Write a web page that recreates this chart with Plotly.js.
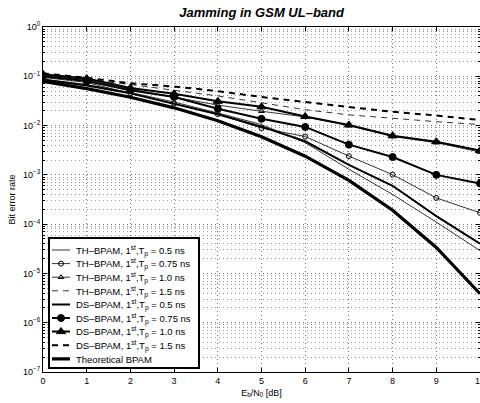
<!DOCTYPE html>
<html>
<head>
<meta charset="utf-8">
<script src="https://cdn.plot.ly/plotly-3.0.1.min.js"></script>
<style>html,body{margin:0;padding:0;background:#fff;}#chart{width:480px;height:403px;}</style>
</head>
<body>
<div id="chart"></div>
<script>
// E_b/N_0 in dB
var ebn0 = [0, 1, 2, 3, 4, 5, 6, 7, 8, 9, 10];

// Bit error rate values
var thBpam050 = [0.088, 0.068, 0.047, 0.030, 0.018, 0.0105, 0.0045, 0.0013, 0.00040, 0.00011, 0.000029];
var thBpam075 = [0.095, 0.075, 0.045, 0.028, 0.017, 0.0089, 0.0060, 0.0024, 0.00101, 0.00034, 0.00017];
var thBpam100 = [0.105, 0.085, 0.055, 0.038, 0.026, 0.0195, 0.0150, 0.0100, 0.0060, 0.0045, 0.0029];
var thBpam150 = [0.110, 0.088, 0.068, 0.052, 0.040, 0.029, 0.021, 0.0165, 0.0140, 0.0120, 0.0105];
var dsBpam050 = [0.085, 0.065, 0.045, 0.028, 0.017, 0.0095, 0.0048, 0.0016, 0.00060, 0.000145, 0.000040];
var dsBpam075 = [0.100, 0.080, 0.052, 0.038, 0.022, 0.0137, 0.0094, 0.0041, 0.0023, 0.0010, 0.00067];
var dsBpam100 = [0.110, 0.090, 0.058, 0.044, 0.031, 0.024, 0.0153, 0.0103, 0.0062, 0.0047, 0.0031];
var dsBpam150 = [0.115, 0.093, 0.072, 0.062, 0.050, 0.038, 0.030, 0.024, 0.019, 0.016, 0.013];
var theoretical = [0.0786, 0.0563, 0.0375, 0.0229, 0.0125, 0.00595, 0.00239, 0.00077, 0.000191, 0.0000336, 0.00000387];

// Legend labels
var seriesNames = [
  'TH\u2013BPAM, 1<sup>st</sup>,T<sub>p</sub> = 0.5 ns',
  'TH\u2013BPAM, 1<sup>st</sup>,T<sub>p</sub> = 0.75 ns',
  'TH\u2013BPAM, 1<sup>st</sup>,T<sub>p</sub> = 1.0 ns',
  'TH\u2013BPAM, 1<sup>st</sup>,T<sub>p</sub> = 1.5 ns',
  'DS\u2013BPAM, 1<sup>st</sup>,T<sub>p</sub> = 0.5 ns',
  'DS\u2013BPAM, 1<sup>st</sup>,T<sub>p</sub> = 0.75 ns',
  'DS\u2013BPAM, 1<sup>st</sup>,T<sub>p</sub> = 1.0 ns',
  'DS\u2013BPAM, 1<sup>st</sup>,T<sub>p</sub> = 1.5 ns',
  'Theoretical BPAM'
];

// Tick labels
var xTickVals = [0, 1, 2, 3, 4, 5, 6, 7, 8, 9, 10];
var xTickText = ['0', '1', '2', '3', '4', '5', '6', '7', '8', '9', '10'];
var yTickVals = [1e-7, 1e-6, 1e-5, 1e-4, 1e-3, 1e-2, 1e-1, 1];
var yTickText = ['10<sup>\u22127</sup>', '10<sup>\u22126</sup>', '10<sup>\u22125</sup>', '10<sup>\u22124</sup>',
                 '10<sup>\u22123</sup>', '10<sup>\u22122</sup>', '10<sup>\u22121</sup>', '10<sup>0</sup>'];
var minorDigits = [2, 3, 4, 5, 6, 7, 8, 9];

// minor grid positions on the log axis (2..9 within each decade)
var yMinorVals = [];
yTickVals.slice(0, -1).forEach(function (d) {
  minorDigits.forEach(function (m) { yMinorVals.push(d * m); });
});

var seriesData = [thBpam050, thBpam075, thBpam100, thBpam150, dsBpam050, dsBpam075, dsBpam100, dsBpam150, theoretical];
var styles = [
  {w: 0.8, dash: 'solid', mode: 'lines'},
  {w: 0.8, dash: 'solid', mode: 'lines+markers', sym: 'circle-open', size: 5},
  {w: 0.8, dash: 'solid', mode: 'lines+markers', sym: 'triangle-up-open', size: 5},
  {w: 0.8, dash: '6px,5px', mode: 'lines'},
  {w: 2, dash: 'solid', mode: 'lines'},
  {w: 2, dash: 'solid', mode: 'lines+markers', sym: 'circle', size: 7},
  {w: 2, dash: 'solid', mode: 'lines+markers', sym: 'triangle-up', size: 8},
  {w: 2, dash: '6px,5px', mode: 'lines'},
  {w: 3.2, dash: 'solid', mode: 'lines'}
];

var traces = seriesData.map(function (ys, i) {
  var s = styles[i];
  var t = {
    x: ebn0, y: ys, name: seriesNames[i], type: 'scatter', mode: s.mode,
    line: {color: '#000', width: s.w, dash: s.dash}
  };
  if (s.sym) {
    t.marker = {symbol: s.sym, size: s.size, color: '#000', line: {color: '#000', width: 1}};
  }
  return t;
});

var fontFam = 'Liberation Sans, Arial, Helvetica, sans-serif';
var gridDash = '1px,3px';

var layout = {
  width: 480, height: 403,
  margin: {l: 43, r: 0, t: 27, b: 31, pad: 0},
  paper_bgcolor: '#fff', plot_bgcolor: '#fff',
  font: {family: fontFam, size: 9, color: '#000'},
  title: {text: '<b><i>Jamming in GSM UL\u2013band</i></b>', font: {family: fontFam, size: 13, color: '#000'},
          x: 0.545, xanchor: 'center', y: 0.97, yanchor: 'middle'},
  xaxis: {
    range: [0, 10], tickmode: 'array', tickvals: xTickVals, ticktext: xTickText,
    ticks: 'inside', ticklen: 4, tickcolor: '#000', mirror: 'allticks',
    showline: true, linecolor: '#000', linewidth: 1,
    showgrid: true, gridcolor: '#777', griddash: gridDash, gridwidth: 1,
    zeroline: false, tickfont: {size: 9}, ticklabeloverflow: 'allow',
    title: {text: 'E<sub>b</sub>/N<sub>0</sub> [dB]', font: {size: 9}, standoff: 4}
  },
  yaxis: {
    type: 'log', range: [-7, 0], tickmode: 'array', tickvals: yTickVals, ticktext: yTickText,
    ticks: 'inside', ticklen: 4, tickcolor: '#000', mirror: 'allticks',
    showline: true, linecolor: '#000', linewidth: 1,
    showgrid: true, gridcolor: '#777', griddash: gridDash, gridwidth: 1,
    zeroline: false, tickfont: {size: 9},
    minor: {tickmode: 'array', tickvals: yMinorVals, showgrid: true, gridcolor: '#999', griddash: gridDash,
            gridwidth: 1, ticks: 'inside', ticklen: 2, tickcolor: '#000'},
    title: {text: 'Bit error rate', font: {size: 9}, standoff: 5}
  },
  showlegend: true,
  legend: {
    x: 0.01, y: 0.012, xanchor: 'left', yanchor: 'bottom',
    bgcolor: '#fff', bordercolor: '#000', borderwidth: 1.5,
    font: {family: fontFam, size: 9.5, color: '#000'},
    tracegroupgap: 0, itemwidth: 30
  }
};

Plotly.newPlot('chart', traces, layout, {displayModeBar: false, staticPlot: true}).then(function (gd) {
  // compact the legend rows to match the reference's tighter spacing
  var leg = gd.querySelector('g.legend');
  if (!leg) return;
  var items = leg.querySelectorAll('g.traces');
  var firstY = 13, spacing = 13.6;
  items.forEach(function (it, i) {
    it.setAttribute('transform', 'translate(1,' + (firstY + i * spacing) + ')');
    it.querySelectorAll('path.js-line').forEach(function (p) { p.setAttribute('d', 'M3,0h18'); });
    it.querySelectorAll('path.scatterpts').forEach(function (p) { p.setAttribute('transform', 'translate(12,0)'); });
    var tx = it.querySelector('text.legendtext');
    if (tx) tx.setAttribute('x', 27);
  });
  var bg = leg.querySelector('rect.bg');
  if (bg) { bg.setAttribute('width', 150); bg.setAttribute('height', 130); }
  leg.setAttribute('transform', 'translate(48,237)');
});
</script>
</body>
</html>
